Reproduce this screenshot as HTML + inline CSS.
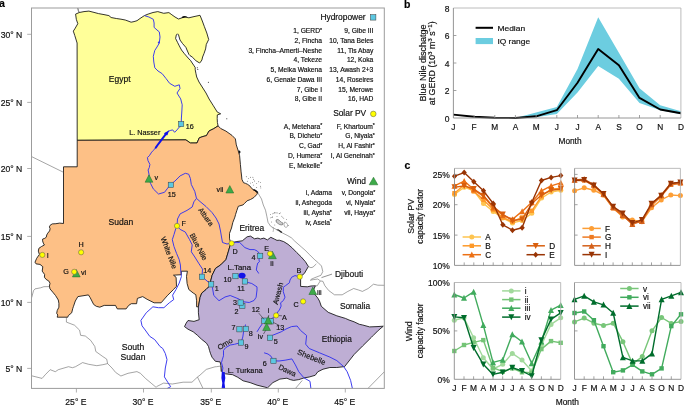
<!DOCTYPE html>
<html><head><meta charset="utf-8"><title>Figure</title>
<style>
html,body{margin:0;padding:0;background:#fff;}
body{width:685px;height:405px;overflow:hidden;}
svg{display:block;font-family:"Liberation Sans", sans-serif;will-change:transform;}
text{stroke:#111;stroke-width:0.18px;}
</style></head>
<body>
<svg width="685" height="405" viewBox="0 0 685 405">
<rect width="685" height="405" fill="#fff"/>
<g id="map">
<polygon points="79.3,12.5 84.0,11.6 88.9,11.1 94.0,12.4 98.5,13.6 104.0,14.6 108.9,15.6 111.1,17.5 116.3,18.5 121.0,19.2 125.2,20.0 128.0,21.0 131.1,22.2 134.0,21.6 137.0,20.7 140.0,18.5 144.4,15.6 148.1,14.1 153.0,12.5 157.8,11.6 163.7,13.3 168.9,12.6 171.9,14.8 175.0,17.0 178.5,19.0 184.4,17.0 188.9,17.8 194.0,16.6 200.0,15.3 202.3,21.0 204.4,26.7 206.8,33.0 208.7,39.5 206.3,44.4 205.6,48.9 204.1,53.3 202.6,57.0 201.9,60.0 200.4,62.2 199.6,63.0 195.9,60.7 192.2,57.0 190.0,55.6 188.9,54.4 187.0,50.0 185.9,47.4 182.5,43.5 180.0,40.0 178.5,34.8 177.5,33.8 176.3,35.0 175.6,38.5 177.5,42.3 179.3,45.9 181.5,50.0 184.4,53.7 188.9,58.9 190.6,60.5 192.2,63.0 193.7,65.2 195.2,67.5 195.2,69.6 195.9,73.3 196.7,77.0 199.0,82.0 202.2,87.0 206.0,93.0 209.1,99.0 213.0,105.2 217.3,112.1 220.7,113.8 217.3,114.9 217.2,118.5 217.4,122.5 218.1,125.9 213.7,128.7 209.0,131.0 206.5,135.6 203.0,136.5 199.3,137.8 197.0,143.0 190.4,143.0 185.9,139.9 77.2,140.3 77.1,43.0 74.8,35.6 73.3,31.1 74.8,28.9 77.8,23.7 76.3,19.3 75.6,14.1" fill="#FFFF99" stroke="#111" stroke-width="0.85" stroke-linejoin="round"/>
<polygon points="77.2,140.3 185.9,139.9 190.4,143.0 197.0,143.0 199.3,137.8 203.0,136.5 206.5,135.6 209.0,131.0 213.7,128.7 218.1,125.9 220.7,128.5 225.9,131.1 232.0,135.4 235.4,138.9 236.3,144.9 238.0,150.1 239.6,155.6 240.4,164.4 241.1,171.9 241.6,176.0 241.9,179.3 243.5,182.7 245.6,183.4 247.7,184.4 250.1,186.2 251.8,188.6 253.9,190.0 256.7,191.4 257.7,192.7 256.6,194.7 253.9,197.5 250.5,199.5 247.1,200.8 244.4,203.6 243.0,204.9 238.3,206.3 236.9,210.3 235.6,214.4 234.9,217.1 232.8,222.5 231.5,228.0 229.5,233.4 229.5,238.8 230.8,242.9 228.5,251.1 225.9,259.7 220.7,264.9 215.5,268.4 212.1,275.3 210.4,282.2 210.8,285.3 208.7,286.9 206.1,289.5 201.8,293.0 200.1,297.3 198.4,306.8 196.6,306.8 196.6,300.8 195.8,294.7 193.2,293.0 188.8,289.5 187.1,283.5 186.5,276.4 187.4,271.2 181.3,271.2 181.3,274.7 173.5,275.2 176.1,277.3 176.5,286.3 173.4,289.6 167.2,295.8 161.1,302.8 154.1,302.8 147.1,299.3 142.7,296.6 137.4,298.4 136.6,303.7 131.3,303.7 128.7,305.4 126.1,308.9 117.3,308.9 115.5,305.4 104.2,305.4 99.8,307.2 96.3,306.3 93.7,304.5 90.1,297.5 88.4,294.9 77.9,296.6 75.3,301.0 73.5,306.3 72.8,308.3 71.7,312.8 68.3,315.6 67.8,317.2 57.2,317.2 57.8,315.0 56.7,313.3 57.2,310.6 58.9,307.2 58.9,303.3 58.3,300.0 55.6,295.6 52.8,292.2 50.0,288.9 49.4,286.1 50.0,283.3 48.9,281.1 46.1,279.4 44.4,277.2 44.6,274.5 42.2,271.1 42.8,266.7 40.0,264.4 36.1,263.9 35.0,262.2 36.7,258.3 39.4,254.4 38.3,251.1 38.9,248.3 41.5,246.5 44.4,245.0 43.3,243.1 42.6,240.9 42.6,239.1 44.8,238.3 46.3,237.2 46.7,235.0 47.8,233.1 49.6,230.9 50.1,228.7 49.4,226.9 50.0,225.4 52.2,223.9 55.9,223.7 59.6,223.1 63.5,223.5 63.5,166.8 77.2,166.8" fill="#FDC086" stroke="#111" stroke-width="0.85" stroke-linejoin="round"/>
<polygon points="230.8,242.9 236.9,241.5 242.3,240.8 247.1,236.8 250.5,236.1 254.5,238.8 257.9,238.1 260.4,239.0 263.9,238.1 267.4,239.9 270.8,237.3 274.3,239.0 277.0,240.4 279.3,240.2 283.7,241.6 288.0,244.3 292.4,248.1 296.7,252.5 301.1,256.8 305.4,261.7 308.4,266.5 304.3,273.5 300.6,276.5 300.6,286.4 307.3,286.8 311.0,286.0 315.4,285.8 313.8,289.3 314.8,294.4 317.8,298.1 319.5,301.1 321.3,306.3 328.2,312.3 336.8,315.8 345.4,318.4 349.0,320.0 354.1,321.8 359.3,324.3 362.7,325.0 369.6,326.9 377.0,326.6 383.3,326.2 378.3,330.4 373.1,335.6 371.4,337.3 362.7,345.9 354.1,354.5 344.6,366.6 336.8,367.5 329.9,367.5 323.0,369.2 317.8,371.8 315.2,375.3 309.2,377.0 304.0,377.9 298.8,379.6 293.6,380.4 290.2,379.6 286.9,378.2 279.9,379.1 272.9,382.6 267.6,387.8 264.1,386.9 257.1,385.2 250.1,382.6 243.1,380.8 237.8,377.3 232.6,374.7 225.5,373.8 221.5,371.4 220.8,365.3 220.1,361.9 215.4,361.3 212.0,357.2 210.6,353.8 209.5,350.4 208.5,346.5 206.5,343.2 201.5,339.2 197.3,335.2 193.2,331.8 188.0,329.2 184.5,326.6 186.2,323.1 188.0,320.5 194.0,321.4 199.2,319.7 198.4,312.8 198.4,306.8 200.1,297.3 201.8,293.0 206.1,289.5 208.7,286.9 210.8,285.3 210.4,282.2 212.1,275.3 215.5,268.4 220.7,264.9 225.9,259.7 228.5,251.1" fill="#BEAED4" stroke="#111" stroke-width="0.85" stroke-linejoin="round"/>
<polyline points="31.6,156.6 63.5,172.3" fill="none" stroke="#4a4a4a" stroke-width="0.5" stroke-linejoin="round"/>
<polyline points="31.7,297.6 33.5,290.7 35.0,288.9 40.6,287.8 43.9,286.7 49.4,286.6" fill="none" stroke="#4a4a4a" stroke-width="0.5" stroke-linejoin="round"/>
<polyline points="66.4,317.2 66.4,322.1 74.5,325.2 79.6,330.2 80.6,335.3 85.3,336.0 90.7,340.4 94.8,346.4 95.8,351.5 102.9,356.6 106.7,359.1 107.6,363.6 112.0,368.0 115.6,372.4 120.9,376.0 128.0,373.3 136.9,371.6 140.4,373.3 145.8,378.7 151.1,383.1 156.4,387.6" fill="none" stroke="#4a4a4a" stroke-width="0.5" stroke-linejoin="round"/>
<polyline points="31.7,375.8 42.1,378.4 45.2,374.8 50.2,369.7 55.3,371.7 58.3,369.7 68.5,366.7 72.5,367.7 75.5,366.7 82.6,362.6 88.7,364.3 96.8,365.7 102.9,364.7 107.6,363.6" fill="none" stroke="#4a4a4a" stroke-width="0.5" stroke-linejoin="round"/>
<polyline points="156.4,386.7 163.6,383.1 172.4,384.0 183.1,382.2 192.0,382.2 197.5,377.0 200.0,375.1 206.3,369.4 215.0,366.8 216.7,366.7 220.8,366.0 220.8,371.4 221.5,371.4" fill="none" stroke="#4a4a4a" stroke-width="0.5" stroke-linejoin="round"/>
<polyline points="197.5,377.0 199.3,380.8 202.8,388.0" fill="none" stroke="#4a4a4a" stroke-width="0.5" stroke-linejoin="round"/>
<polyline points="257.7,192.7 259.5,195.6 261.5,199.0 263.3,205.0 265.5,210.2 266.8,216.2 268.0,222.3 270.6,226.2 274.1,228.3 278.4,230.5 282.7,233.1 287.1,235.3 291.4,237.8 294.8,241.2 301.2,246.8 304.9,250.0 309.8,254.9 314.8,259.9 317.8,262.3 321.5,266.0 322.8,271.6 320.9,275.3 316.0,277.2 311.7,279.0 310.4,280.2 313.5,279.6 317.8,279.0 320.3,280.9 322.9,281.3 324.8,285.6 328.7,290.5 334.5,294.8 342.2,294.8 347.9,291.4 353.7,288.5 358.5,290.0 362.4,291.4 368.2,288.5 373.5,284.2 377.8,285.2 384.3,285.3" fill="none" stroke="#4a4a4a" stroke-width="0.5" stroke-linejoin="round"/>
<polyline points="308.4,266.5 310.9,267.7 313.0,267.1 316.3,263.9" fill="none" stroke="#4a4a4a" stroke-width="0.5" stroke-linejoin="round"/>
<polyline points="315.4,285.8 317.2,285.8 320.3,280.9" fill="none" stroke="#4a4a4a" stroke-width="0.5" stroke-linejoin="round"/>
<polyline points="367.9,388.5 384.3,371.8" fill="none" stroke="#4a4a4a" stroke-width="0.5" stroke-linejoin="round"/>
<polyline points="295.4,388.5 302.3,380.4" fill="none" stroke="#4a4a4a" stroke-width="0.5" stroke-linejoin="round"/>
<polyline points="144.4,15.6 148.9,17.0 153.3,19.3 154.1,23.0 154.1,27.4 157.0,30.0 159.3,31.9 160.0,37.0 159.3,43.0 157.0,47.0 154.8,50.4 153.3,56.3 153.8,62.0 154.8,67.8 158.0,71.0 162.2,73.7 166.0,78.5 169.6,83.3 174.8,86.3 179.3,84.8 180.0,88.5 177.0,93.0 180.7,98.9 182.2,104.8 181.8,112.0 181.4,118.0 181.2,124.0" fill="none" stroke="#3434EE" stroke-width="0.95" stroke-linejoin="round"/>
<polyline points="156.0,147.2 153.6,150.2 151.7,152.1 149.3,155.8 147.4,157.5 148.0,160.7 149.9,164.4 149.3,167.5 148.1,170.0 149.0,174.2 149.0,179.4 150.7,183.7 153.3,188.9 158.5,194.0 164.5,192.3 167.1,188.9 170.6,184.5 174.9,181.1 180.1,175.9 185.3,173.3 188.7,174.2 190.4,178.5 191.3,184.5 194.8,191.5 196.5,198.4 193.9,201.8 192.2,207.0 187.0,210.4 180.1,213.9 177.5,219.0 177.0,225.9" fill="none" stroke="#3434EE" stroke-width="0.95" stroke-linejoin="round"/>
<polyline points="177.0,225.9 175.8,228.5 174.0,234.5 172.3,239.7 174.0,246.6 176.6,253.5 179.2,259.6 180.4,265.0 180.7,270.0 181.4,276.6 179.2,283.1 175.9,289.7 172.6,295.2 173.7,299.6 169.3,302.8 163.9,307.7 158.4,307.7 152.9,306.8 146.3,312.7 140.9,320.4 142.0,325.8 145.2,330.0 149.7,336.3 154.7,339.6 160.1,346.6 162.7,348.4 165.3,353.5 167.0,359.6 165.3,368.0 164.4,376.9 168.9,384.0 170.7,386.7 167.0,388.6" fill="none" stroke="#3434EE" stroke-width="0.95" stroke-linejoin="round"/>
<polyline points="177.0,225.9 180.1,229.4 185.3,232.0 189.6,239.7 192.2,244.9 191.3,251.8 194.8,257.0 199.1,263.9 202.5,269.1 202.0,276.6 207.0,281.0 211.2,284.3 212.4,287.6 213.8,295.5 219.0,300.7 225.0,297.0 230.2,295.5 238.9,299.0 242.3,301.6 249.2,302.5 254.0,300.5 256.1,297.3 257.0,290.0 257.0,286.9 251.8,283.5 244.9,281.7 242.0,277.0" fill="none" stroke="#3434EE" stroke-width="0.95" stroke-linejoin="round"/>
<polyline points="196.5,198.4 200.0,201.5 206.0,206.5 212.0,212.5 216.0,218.0 219.0,224.0 220.5,231.0 221.5,237.0 222.5,242.5 227.0,244.0 231.6,243.3 235.0,242.3 239.7,242.5 244.9,247.6 250.0,249.6 254.4,249.6 257.4,251.1 259.3,253.3 260.1,255.9 258.9,260.0 259.6,261.5 257.8,263.0 257.0,265.9 256.3,270.0 257.9,272.0 258.7,273.5" fill="none" stroke="#3434EE" stroke-width="0.95" stroke-linejoin="round"/>
<polyline points="299.8,276.7 295.0,275.6 291.7,277.2 290.0,280.0 289.4,282.8 285.6,285.6 283.3,287.2 283.3,291.7 285.0,297.2 283.3,300.6 280.6,302.8 281.1,306.1 279.4,310.0 277.7,312.0 276.0,315.4 272.5,318.0 268.2,321.5 264.0,321.0" fill="none" stroke="#3434EE" stroke-width="0.95" stroke-linejoin="round"/>
<polyline points="262.2,324.0 260.0,327.0 257.0,331.8" fill="none" stroke="#3434EE" stroke-width="0.95" stroke-linejoin="round"/>
<polyline points="245.5,324.5 244.5,329.0 243.5,332.0 242.8,337.0 241.1,342.5 239.8,342.9 234.4,344.3 230.3,345.0 225.6,347.7 223.5,350.4 223.5,355.8 222.2,359.9 221.5,362.6 222.9,368.0 222.2,372.1" fill="none" stroke="#3434EE" stroke-width="0.95" stroke-linejoin="round"/>
<polyline points="270.0,337.5 272.5,335.3 277.0,333.5 281.2,331.8 286.0,329.0 291.5,326.6 297.1,326.0 300.5,330.4 306.6,335.5 305.7,344.2 309.2,348.5 319.5,352.8 329.9,357.1 336.8,360.6 343.7,366.6 347.2,371.8 350.6,380.4 352.4,388.5" fill="none" stroke="#3434EE" stroke-width="0.95" stroke-linejoin="round"/>
<polyline points="264.1,352.8 268.0,354.0 271.1,356.3 273.4,360.8 279.0,361.0 285.1,360.2 291.9,358.9 295.4,364.9 298.8,371.8 304.0,377.9 310.0,381.3 310.9,388.5" fill="none" stroke="#3434EE" stroke-width="0.95" stroke-linejoin="round"/>
<polyline points="181,126.5 179.5,126.8 177,129.9 174.6,132.3 172.7,129.9 170.2,130.5 167.8,131.7" fill="none" stroke="#3434EE" stroke-width="0.95" stroke-linejoin="round"/>
<polyline points="166.8,133 164.5,135.8 162.2,138.8 160,141.8 157.6,145 155.8,147.6" fill="none" stroke="#1212E8" stroke-width="2" stroke-linejoin="round" stroke-linecap="round"/>
<polygon points="169.2,130.2 167.4,135.2 165.4,134.9 164,133.2" fill="#1212E8"/>
<ellipse cx="242" cy="275.6" rx="3.6" ry="2.9" fill="#1212E8"/>
<path d="M221.8,372 L224.6,372 L225.3,378 L224.5,383 L225.2,388.5 L221.6,388.5 L222.3,383 L221.4,378 Z" fill="#1212E8"/>
<circle cx="158.8" cy="42.5" r="1" fill="#3a3af0"/>
<polyline points="79.3,12.5 78.3,10.5 77.8,8" fill="none" stroke="#111" stroke-width="0.7"/>
<path d="M181.5,17.2 q2,-1.6 4.5,-0.9 l1.5,0.8 q-2.5,-0.2 -3.5,0.8 q-1.5,0.5 -2.5,-0.7z" fill="#111"/>
<circle cx="208.4" cy="82.3" r="0.5" fill="#111"/>
<circle cx="226.8" cy="118.7" r="0.5" fill="#111"/>
<circle cx="197.3" cy="67.8" r="0.5" fill="#111"/>
<circle cx="197.8" cy="69.6" r="0.5" fill="#111"/>
<path d="M238.6,150.2 l1.6,0.8 l0.4,1.6 l-1,0.3 l0.2,1.2 l-0.8,-0.6 z" fill="#111"/>
<circle cx="246.3" cy="176.8" r="0.45" fill="#333"/>
<circle cx="248.4" cy="178.6" r="0.45" fill="#333"/>
<circle cx="250.4" cy="177.2" r="0.45" fill="#333"/>
<circle cx="252.9" cy="177.2" r="0.45" fill="#333"/>
<circle cx="253.5" cy="179.3" r="0.45" fill="#333"/>
<circle cx="247.3" cy="181.3" r="0.45" fill="#333"/>
<circle cx="250.4" cy="183.1" r="0.45" fill="#333"/>
<circle cx="252.5" cy="182.4" r="0.45" fill="#333"/>
<circle cx="254.6" cy="181" r="0.45" fill="#333"/>
<circle cx="256.7" cy="183.4" r="0.45" fill="#333"/>
<circle cx="258.7" cy="181.7" r="0.45" fill="#333"/>
<circle cx="260.5" cy="182.4" r="0.45" fill="#333"/>
<circle cx="253.5" cy="185.1" r="0.45" fill="#333"/>
<circle cx="256.7" cy="187.5" r="0.45" fill="#333"/>
<circle cx="260.5" cy="186.2" r="0.45" fill="#333"/>
<circle cx="260.8" cy="187.9" r="0.45" fill="#333"/>
<polyline points="253.5,189.6 255.5,190.6 257.7,192.7" fill="none" stroke="#111" stroke-width="1.6"/>
<path d="M276,220 q2,-1.5 3.5,0.5 q1.5,2 3.5,2.5 q0.5,1.5 -1,2 q-2.5,0 -4,-1.5 q-2.5,-1 -2,-3.5z" fill="#ccc" stroke="#333" stroke-width="0.45"/>
<path d="M277.5,229.5 l2,1.2 l2.5,1.8" fill="none" stroke="#222" stroke-width="1.1"/>
<path d="M284.5,222 q2,0 3,2.5 q0.5,2.5 -1.5,3 q-2,-0.5 -2,-3z" fill="none" stroke="#666" stroke-width="0.5"/>
<path d="M272,214 q3,-2 6,-1 M270,218 l3,-1 M273,227 q1,3 0,5 M276,229.5 q3,1 5,3.5 M279,214 l2,-1.5 M281,216 q2,1 3,3" fill="none" stroke="#777" stroke-width="0.5"/>
<circle cx="270.5" cy="214.5" r="0.45" fill="#555"/>
<circle cx="272.5" cy="217" r="0.45" fill="#555"/>
<circle cx="274.6" cy="212.8" r="0.45" fill="#555"/>
<circle cx="277" cy="216.5" r="0.45" fill="#555"/>
<circle cx="279.2" cy="213.5" r="0.45" fill="#555"/>
<circle cx="271.6" cy="222" r="0.45" fill="#555"/>
<circle cx="274.8" cy="225" r="0.45" fill="#555"/>
<circle cx="286.5" cy="219.5" r="0.45" fill="#555"/>
<circle cx="288.5" cy="225.5" r="0.45" fill="#555"/>
<rect x="31.5" y="8" width="352.8" height="380.4" fill="none" stroke="#9c9c9c" stroke-width="1"/>
</g>
<line x1="27.2" y1="34.3" x2="31.5" y2="34.3" stroke="#9c9c9c" stroke-width="0.8"/>
<text x="22.3" y="37.8" font-size="8.6" text-anchor="end" fill="#111">30° N</text>
<line x1="27.2" y1="102.4" x2="31.5" y2="102.4" stroke="#9c9c9c" stroke-width="0.8"/>
<text x="22.3" y="105.9" font-size="8.6" text-anchor="end" fill="#111">25° N</text>
<line x1="27.2" y1="168.5" x2="31.5" y2="168.5" stroke="#9c9c9c" stroke-width="0.8"/>
<text x="22.3" y="172.0" font-size="8.6" text-anchor="end" fill="#111">20° N</text>
<line x1="27.2" y1="236.4" x2="31.5" y2="236.4" stroke="#9c9c9c" stroke-width="0.8"/>
<text x="22.3" y="239.9" font-size="8.6" text-anchor="end" fill="#111">15° N</text>
<line x1="27.2" y1="302.4" x2="31.5" y2="302.4" stroke="#9c9c9c" stroke-width="0.8"/>
<text x="22.3" y="305.9" font-size="8.6" text-anchor="end" fill="#111">10° N</text>
<line x1="27.2" y1="368.4" x2="31.5" y2="368.4" stroke="#9c9c9c" stroke-width="0.8"/>
<text x="22.3" y="371.9" font-size="8.6" text-anchor="end" fill="#111">5° N</text>
<line x1="76.4" y1="388.4" x2="76.4" y2="392.5" stroke="#9c9c9c" stroke-width="0.8"/>
<text x="75.9" y="405.1" font-size="8.6" text-anchor="middle" fill="#111">25° E</text>
<line x1="143.5" y1="388.4" x2="143.5" y2="392.5" stroke="#9c9c9c" stroke-width="0.8"/>
<text x="143.0" y="405.1" font-size="8.6" text-anchor="middle" fill="#111">30° E</text>
<line x1="211.3" y1="388.4" x2="211.3" y2="392.5" stroke="#9c9c9c" stroke-width="0.8"/>
<text x="210.8" y="405.1" font-size="8.6" text-anchor="middle" fill="#111">35° E</text>
<line x1="278.3" y1="388.4" x2="278.3" y2="392.5" stroke="#9c9c9c" stroke-width="0.8"/>
<text x="277.8" y="405.1" font-size="8.6" text-anchor="middle" fill="#111">40° E</text>
<line x1="345.3" y1="388.4" x2="345.3" y2="392.5" stroke="#9c9c9c" stroke-width="0.8"/>
<text x="344.8" y="405.1" font-size="8.6" text-anchor="middle" fill="#111">45° E</text>
<text x="108.8" y="82.2" font-size="8.6" textLength="21.7" lengthAdjust="spacingAndGlyphs" fill="#111">Egypt</text>
<text x="108.5" y="224.5" font-size="8.6" textLength="24.7" lengthAdjust="spacingAndGlyphs" fill="#111">Sudan</text>
<text x="239.4" y="230.7" font-size="8.6" textLength="24.8" lengthAdjust="spacingAndGlyphs" fill="#111">Eritrea</text>
<text x="334.9" y="277" font-size="8.6" textLength="28.3" lengthAdjust="spacingAndGlyphs" fill="#111">Djibouti</text>
<text x="339.9" y="308.9" font-size="8.6" textLength="30.2" lengthAdjust="spacingAndGlyphs" fill="#111">Somalia</text>
<text x="321.8" y="341.7" font-size="9.7" textLength="30.0" lengthAdjust="spacingAndGlyphs" fill="#111">Ethiopia</text>
<text x="133" y="349.6" font-size="8.6" text-anchor="middle" fill="#111">South</text>
<text x="133" y="359.6" font-size="8.6" text-anchor="middle" fill="#111">Sudan</text>
<text x="129.3" y="135.2" font-size="7.2" textLength="31" lengthAdjust="spacingAndGlyphs" fill="#111">L. Nasser</text>
<text x="227.6" y="270.0" font-size="8" textLength="23.4" lengthAdjust="spacingAndGlyphs" fill="#111">L.Tana</text>
<text x="227.7" y="372.9" font-size="8" textLength="35" lengthAdjust="spacingAndGlyphs" fill="#111">L. Turkana</text>
<line x1="321.5" y1="277.6" x2="332" y2="274.1" stroke="#222" stroke-width="0.5"/>
<text x="0" y="0" font-size="7.2" fill="#222" text-anchor="middle" dominant-baseline="central" textLength="20.4" lengthAdjust="spacingAndGlyphs" transform="translate(206,216.8) rotate(53.6)">Atbara</text>
<text x="0" y="0" font-size="7.3" fill="#222" text-anchor="middle" dominant-baseline="central" textLength="29.3" lengthAdjust="spacingAndGlyphs" transform="translate(198.6,246.8) rotate(62)">Blue Nile</text>
<text x="0" y="0" font-size="7.3" fill="#222" text-anchor="middle" dominant-baseline="central" textLength="33.4" lengthAdjust="spacingAndGlyphs" transform="translate(168.8,252.7) rotate(68.7)">White Nile</text>
<text x="0" y="0" font-size="7.4" fill="#222" text-anchor="middle" dominant-baseline="central" textLength="22.3" lengthAdjust="spacingAndGlyphs" transform="translate(278,293.5) rotate(-75.5)">Awash</text>
<text x="0" y="0" font-size="7.4" fill="#222" text-anchor="middle" dominant-baseline="central" textLength="16.3" lengthAdjust="spacingAndGlyphs" transform="translate(225,343.9) rotate(-31.7)">Omo</text>
<text x="0" y="0" font-size="7.6" fill="#222" text-anchor="middle" dominant-baseline="central" textLength="29.8" lengthAdjust="spacingAndGlyphs" transform="translate(311.5,357.3) rotate(22)">Shebelle</text>
<text x="0" y="0" font-size="7.3" fill="#222" text-anchor="middle" dominant-baseline="central" textLength="18.4" lengthAdjust="spacingAndGlyphs" transform="translate(287.3,370.4) rotate(25.4)">Dawa</text>
<rect x="208.5" y="281.7" width="5.3" height="5.3" fill="#5CC8E2" stroke="#3a3a3a" stroke-width="0.5"/>
<rect x="239.7" y="303.2" width="5.3" height="5.3" fill="#5CC8E2" stroke="#3a3a3a" stroke-width="0.5"/>
<rect x="237.9" y="299.9" width="5.3" height="5.3" fill="#5CC8E2" stroke="#3a3a3a" stroke-width="0.5"/>
<rect x="257.5" y="253.2" width="5.3" height="5.3" fill="#5CC8E2" stroke="#3a3a3a" stroke-width="0.5"/>
<rect x="267.4" y="335.1" width="5.3" height="5.3" fill="#5CC8E2" stroke="#3a3a3a" stroke-width="0.5"/>
<rect x="270.8" y="358.2" width="5.3" height="5.3" fill="#5CC8E2" stroke="#3a3a3a" stroke-width="0.5"/>
<rect x="236.8" y="326.6" width="5.3" height="5.3" fill="#5CC8E2" stroke="#3a3a3a" stroke-width="0.5"/>
<rect x="243.2" y="326.2" width="5.3" height="5.3" fill="#5CC8E2" stroke="#3a3a3a" stroke-width="0.5"/>
<rect x="238.4" y="339.9" width="5.3" height="5.3" fill="#5CC8E2" stroke="#3a3a3a" stroke-width="0.5"/>
<rect x="232.8" y="273.5" width="5.3" height="5.3" fill="#5CC8E2" stroke="#3a3a3a" stroke-width="0.5"/>
<rect x="242.2" y="278.8" width="5.3" height="5.3" fill="#5CC8E2" stroke="#3a3a3a" stroke-width="0.5"/>
<rect x="261.7" y="318.0" width="5.3" height="5.3" fill="#5CC8E2" stroke="#3a3a3a" stroke-width="0.5"/>
<rect x="268.2" y="318.7" width="5.3" height="5.3" fill="#5CC8E2" stroke="#3a3a3a" stroke-width="0.5"/>
<rect x="199.3" y="274.1" width="5.3" height="5.3" fill="#5CC8E2" stroke="#3a3a3a" stroke-width="0.5"/>
<rect x="168.2" y="182.2" width="5.3" height="5.3" fill="#5CC8E2" stroke="#3a3a3a" stroke-width="0.5"/>
<rect x="178.5" y="121.4" width="5.3" height="5.3" fill="#5CC8E2" stroke="#3a3a3a" stroke-width="0.5"/>
<polygon points="145.1,182.2 152.9,182.2 149.0,174.8" fill="#3DAA48" stroke="#1d6a26" stroke-width="0.5"/>
<polygon points="225.9,193.0 233.7,193.0 229.8,185.6" fill="#3DAA48" stroke="#1d6a26" stroke-width="0.5"/>
<polygon points="72.4,276.9 80.2,276.9 76.3,269.5" fill="#3DAA48" stroke="#1d6a26" stroke-width="0.5"/>
<polygon points="268.5,258.7 276.3,258.7 272.4,251.3" fill="#3DAA48" stroke="#1d6a26" stroke-width="0.5"/>
<polygon points="308.9,294.5 316.7,294.5 312.8,287.1" fill="#3DAA48" stroke="#1d6a26" stroke-width="0.5"/>
<polygon points="264.3,323.9 272.1,323.9 268.2,316.5" fill="#3DAA48" stroke="#1d6a26" stroke-width="0.5"/>
<polygon points="262.7,330.5 270.5,330.5 266.6,323.1" fill="#3DAA48" stroke="#1d6a26" stroke-width="0.5"/>
<circle cx="42.3" cy="254.9" r="2.6" fill="#FFFF00" stroke="#555" stroke-width="0.5"/>
<circle cx="81.1" cy="252.3" r="2.6" fill="#FFFF00" stroke="#555" stroke-width="0.5"/>
<circle cx="74.2" cy="271.8" r="2.6" fill="#FFFF00" stroke="#555" stroke-width="0.5"/>
<circle cx="231.6" cy="243.3" r="2.6" fill="#FFFF00" stroke="#555" stroke-width="0.5"/>
<circle cx="270" cy="253.7" r="2.6" fill="#FFFF00" stroke="#555" stroke-width="0.5"/>
<circle cx="177" cy="225.9" r="2.6" fill="#FFFF00" stroke="#555" stroke-width="0.5"/>
<circle cx="276.1" cy="315.4" r="2.6" fill="#FFFF00" stroke="#555" stroke-width="0.5"/>
<circle cx="299.8" cy="276.7" r="2.6" fill="#FFFF00" stroke="#555" stroke-width="0.5"/>
<circle cx="303.1" cy="301.4" r="2.6" fill="#FFFF00" stroke="#555" stroke-width="0.5"/>
<text x="185.8" y="128.8" font-size="7.2" fill="#111">16</text>
<text x="167.8" y="197.2" font-size="7.2" fill="#111">15</text>
<text x="203.2" y="272.5" font-size="7.2" fill="#111">14</text>
<text x="214.8" y="291" font-size="7.2" fill="#111">1</text>
<text x="223.5" y="282.2" font-size="7.2" fill="#111">10</text>
<text x="237.2" y="290.5" font-size="7.2" fill="#111">11</text>
<text x="251.5" y="259.9" font-size="7.2" fill="#111">4</text>
<text x="232.9" y="304.5" font-size="7.2" fill="#111">3</text>
<text x="234.6" y="313.8" font-size="7.2" fill="#111">2</text>
<text x="251.7" y="312.4" font-size="7.2" fill="#111">12</text>
<text x="276.2" y="330.2" font-size="7.2" fill="#111">13</text>
<text x="231.5" y="330.2" font-size="7.2" fill="#111">7</text>
<text x="248.7" y="335.5" font-size="7.2" fill="#111">8</text>
<text x="244.5" y="349.3" font-size="7.2" fill="#111">9</text>
<text x="273.8" y="344.2" font-size="7.2" fill="#111">5</text>
<text x="262.8" y="365.6" font-size="7.2" fill="#111">6</text>
<text x="46.8" y="257.9" font-size="7.2" fill="#111">I</text>
<text x="78.5" y="247.4" font-size="7.2" fill="#111">H</text>
<text x="63.3" y="274.3" font-size="7.2" fill="#111">G</text>
<text x="81" y="275" font-size="7.2" fill="#111">vi</text>
<text x="154.4" y="180.0" font-size="7.2" fill="#111">v</text>
<text x="216.6" y="192.0" font-size="7.2" fill="#111">vii</text>
<text x="181.5" y="226.3" font-size="7.2" fill="#111">F</text>
<text x="232.4" y="253.9" font-size="7.2" fill="#111">D</text>
<text x="264.2" y="250.5" font-size="7.2" fill="#111">E</text>
<text x="270.3" y="266.2" font-size="7.2" fill="#111">ii</text>
<text x="316.9" y="294.8" font-size="7.2" fill="#111">iii</text>
<text x="296.5" y="272.7" font-size="7.2" fill="#111">B</text>
<text x="293.5" y="307.4" font-size="7.2" fill="#111">C</text>
<text x="282" y="319.5" font-size="7.2" fill="#111">A</text>
<text x="267.8" y="313.2" font-size="7.2" fill="#111">i</text>
<text x="257.8" y="339" font-size="7.2" fill="#111">iv</text>
<line x1="258.5" y1="312.8" x2="264" y2="319.4" stroke="#111" stroke-width="0.5"/>
<line x1="273.5" y1="322.5" x2="279.5" y2="325.5" stroke="#111" stroke-width="0.5"/>
<line x1="278.8" y1="315.6" x2="282" y2="315.8" stroke="#111" stroke-width="0.5"/>
<line x1="265.6" y1="330.5" x2="263.5" y2="334" stroke="#111" stroke-width="0.5"/>
<line x1="268.8" y1="315" x2="268.3" y2="317.5" stroke="#111" stroke-width="0.5"/>
<text x="365.6" y="20.3" font-size="8.4" text-anchor="end" fill="#111">Hydropower</text>
<rect x="370.4" y="14.6" width="5.5" height="5.5" fill="#5CC8E2" stroke="#3a3a3a" stroke-width="0.5"/>
<text x="322.0" y="33.0" font-size="6.7" text-anchor="end" fill="#111">1, GERD<tspan font-size="5.2" dy="-1.3">*</tspan></text>
<text x="373.3" y="33.0" font-size="6.7" text-anchor="end" fill="#111">9, Gibe III</text>
<text x="322.0" y="42.75" font-size="6.7" text-anchor="end" fill="#111">2, Fincha</text>
<text x="373.3" y="42.75" font-size="6.7" text-anchor="end" fill="#111">10, Tana Beles</text>
<text x="322.0" y="52.5" font-size="6.7" text-anchor="end" fill="#111">3, Fincha–Amerti–Neshe</text>
<text x="373.3" y="52.5" font-size="6.7" text-anchor="end" fill="#111">11, Tis Abay</text>
<text x="322.0" y="62.25" font-size="6.7" text-anchor="end" fill="#111">4, Tekeze</text>
<text x="373.3" y="62.25" font-size="6.7" text-anchor="end" fill="#111">12, Koka</text>
<text x="322.0" y="72.0" font-size="6.7" text-anchor="end" fill="#111">5, Melka Wakena</text>
<text x="373.3" y="72.0" font-size="6.7" text-anchor="end" fill="#111">13, Awash 2+3</text>
<text x="322.0" y="81.75" font-size="6.7" text-anchor="end" fill="#111">6, Genale Dawa III</text>
<text x="373.3" y="81.75" font-size="6.7" text-anchor="end" fill="#111">14, Roseires</text>
<text x="322.0" y="91.5" font-size="6.7" text-anchor="end" fill="#111">7, Gibe I</text>
<text x="373.3" y="91.5" font-size="6.7" text-anchor="end" fill="#111">15, Merowe</text>
<text x="322.0" y="101.25" font-size="6.7" text-anchor="end" fill="#111">8, Gibe II</text>
<text x="373.3" y="101.25" font-size="6.7" text-anchor="end" fill="#111">16, HAD</text>
<text x="366.2" y="116.4" font-size="8.4" text-anchor="end" fill="#111">Solar PV</text>
<circle cx="373.3" cy="113.9" r="2.8" fill="#FFFF00" stroke="#555" stroke-width="0.5"/>
<text x="322.3" y="128.7" font-size="6.7" text-anchor="end" fill="#111">A, Metehara<tspan font-size="5.2" dy="-1.3">*</tspan></text>
<text x="322.3" y="138.45" font-size="6.7" text-anchor="end" fill="#111">B, Dicheto<tspan font-size="5.2" dy="-1.3">*</tspan></text>
<text x="322.3" y="148.2" font-size="6.7" text-anchor="end" fill="#111">C, Gad<tspan font-size="5.2" dy="-1.3">*</tspan></text>
<text x="322.3" y="157.95" font-size="6.7" text-anchor="end" fill="#111">D, Humera<tspan font-size="5.2" dy="-1.3">*</tspan></text>
<text x="322.3" y="167.7" font-size="6.7" text-anchor="end" fill="#111">E, Mekelle<tspan font-size="5.2" dy="-1.3">*</tspan></text>
<text x="374.8" y="128.7" font-size="6.7" text-anchor="end" fill="#111">F, Khartoum<tspan font-size="5.2" dy="-1.3">*</tspan></text>
<text x="374.8" y="138.45" font-size="6.7" text-anchor="end" fill="#111">G, Niyala<tspan font-size="5.2" dy="-1.3">*</tspan></text>
<text x="374.8" y="148.2" font-size="6.7" text-anchor="end" fill="#111">H, Al Fashir<tspan font-size="5.2" dy="-1.3">*</tspan></text>
<text x="374.8" y="157.95" font-size="6.7" text-anchor="end" fill="#111">I, Al Geneinah<tspan font-size="5.2" dy="-1.3">*</tspan></text>
<text x="366" y="184" font-size="8.4" text-anchor="end" fill="#111">Wind</text>
<polygon points="369.2,184.8 377.8,184.8 373.5,177.2" fill="#3DAA48" stroke="#1d6a26" stroke-width="0.5"/>
<text x="331.9" y="195.3" font-size="6.7" text-anchor="end" fill="#111">i, Adama</text>
<text x="331.9" y="205.05" font-size="6.7" text-anchor="end" fill="#111">ii, Ashegoda</text>
<text x="331.9" y="214.8" font-size="6.7" text-anchor="end" fill="#111">iii, Aysha<tspan font-size="5.2" dy="-1.3">*</tspan></text>
<text x="331.9" y="224.55" font-size="6.7" text-anchor="end" fill="#111">iv, Asela<tspan font-size="5.2" dy="-1.3">*</tspan></text>
<text x="375.2" y="195.3" font-size="6.7" text-anchor="end" fill="#111">v, Dongola<tspan font-size="5.2" dy="-1.3">*</tspan></text>
<text x="375.2" y="205.05" font-size="6.7" text-anchor="end" fill="#111">vi, Niyala<tspan font-size="5.2" dy="-1.3">*</tspan></text>
<text x="375.2" y="214.8" font-size="6.7" text-anchor="end" fill="#111">vii, Hayya<tspan font-size="5.2" dy="-1.3">*</tspan></text>
<polygon points="453.4,114.6 474.1,116.8 494.8,117.7 515.4,118.0 536.1,112.5 556.8,107.0 577.5,68.9 598.2,17.2 618.9,52.7 639.5,88.2 660.2,105.2 680.9,111.3 680.9,114.2 660.2,110.3 639.5,103.0 618.9,78.7 598.2,66.0 577.5,92.6 556.8,113.9 536.1,117.3 515.4,118.0 494.8,117.7 474.1,116.8 453.4,114.6" fill="#6CCDE0"/>
<polyline points="453.4,114.6 474.1,116.8 494.8,117.7 515.4,118.0 536.1,116.3 556.8,110.2 577.5,82.8 598.2,49.1 618.9,65.3 639.5,97.9 660.2,109.5 680.9,113.2" fill="none" stroke="#000" stroke-width="1.9" stroke-linejoin="round"/>
<path d="M453.4,8.0 H680.9 V118.0" fill="none" stroke="#b4b4b4" stroke-width="0.9"/>
<path d="M453.4,8.0 V118.0 H680.9" fill="none" stroke="#8a8a8a" stroke-width="0.9"/>
<line x1="453.4" y1="90.5" x2="456.4" y2="90.5" stroke="#8a8a8a" stroke-width="0.8"/>
<line x1="453.4" y1="63.0" x2="456.4" y2="63.0" stroke="#8a8a8a" stroke-width="0.8"/>
<line x1="453.4" y1="35.5" x2="456.4" y2="35.5" stroke="#8a8a8a" stroke-width="0.8"/>
<line x1="474.1" y1="118.0" x2="474.1" y2="115.0" stroke="#8a8a8a" stroke-width="0.8"/>
<line x1="494.8" y1="118.0" x2="494.8" y2="115.0" stroke="#8a8a8a" stroke-width="0.8"/>
<line x1="515.4" y1="118.0" x2="515.4" y2="115.0" stroke="#8a8a8a" stroke-width="0.8"/>
<line x1="536.1" y1="118.0" x2="536.1" y2="115.0" stroke="#8a8a8a" stroke-width="0.8"/>
<line x1="556.8" y1="118.0" x2="556.8" y2="115.0" stroke="#8a8a8a" stroke-width="0.8"/>
<line x1="577.5" y1="118.0" x2="577.5" y2="115.0" stroke="#8a8a8a" stroke-width="0.8"/>
<line x1="598.2" y1="118.0" x2="598.2" y2="115.0" stroke="#8a8a8a" stroke-width="0.8"/>
<line x1="618.9" y1="118.0" x2="618.9" y2="115.0" stroke="#8a8a8a" stroke-width="0.8"/>
<line x1="639.5" y1="118.0" x2="639.5" y2="115.0" stroke="#8a8a8a" stroke-width="0.8"/>
<line x1="660.2" y1="118.0" x2="660.2" y2="115.0" stroke="#8a8a8a" stroke-width="0.8"/>
<text x="449.4" y="121.5" font-size="8.5" text-anchor="end" fill="#111">0</text>
<text x="449.4" y="94.0" font-size="8.5" text-anchor="end" fill="#111">2</text>
<text x="449.4" y="66.5" font-size="8.5" text-anchor="end" fill="#111">4</text>
<text x="449.4" y="39.0" font-size="8.5" text-anchor="end" fill="#111">6</text>
<text x="449.4" y="11.5" font-size="8.5" text-anchor="end" fill="#111">8</text>
<text x="453.4" y="130.1" font-size="8.3" text-anchor="middle" fill="#111">J</text>
<text x="474.1" y="130.1" font-size="8.3" text-anchor="middle" fill="#111">F</text>
<text x="494.8" y="130.1" font-size="8.3" text-anchor="middle" fill="#111">M</text>
<text x="515.4" y="130.1" font-size="8.3" text-anchor="middle" fill="#111">A</text>
<text x="536.1" y="130.1" font-size="8.3" text-anchor="middle" fill="#111">M</text>
<text x="556.8" y="130.1" font-size="8.3" text-anchor="middle" fill="#111">J</text>
<text x="577.5" y="130.1" font-size="8.3" text-anchor="middle" fill="#111">J</text>
<text x="598.2" y="130.1" font-size="8.3" text-anchor="middle" fill="#111">A</text>
<text x="618.9" y="130.1" font-size="8.3" text-anchor="middle" fill="#111">S</text>
<text x="639.5" y="130.1" font-size="8.3" text-anchor="middle" fill="#111">O</text>
<text x="660.2" y="130.1" font-size="8.3" text-anchor="middle" fill="#111">N</text>
<text x="680.9" y="130.1" font-size="8.3" text-anchor="middle" fill="#111">D</text>
<text x="570" y="143.6" font-size="8.3" text-anchor="middle" fill="#111">Month</text>
<text x="0" y="0" font-size="9" fill="#111" text-anchor="middle" transform="translate(425.5,63) rotate(-90)">Blue Nile dischatge</text>
<text x="0" y="0" font-size="8.8" fill="#111" text-anchor="middle" transform="translate(435.1,63.3) rotate(-90)">at GERD (10<tspan font-size="6.2" dy="-2.9">3</tspan><tspan dy="2.9"> m</tspan><tspan font-size="6.2" dy="-2.9">3</tspan><tspan dy="2.9"> s</tspan><tspan font-size="6.2" dy="-2.9">−1</tspan><tspan dy="2.9">)</tspan></text>
<line x1="475.6" y1="27.8" x2="493" y2="27.8" stroke="#000" stroke-width="2"/>
<text x="497.4" y="30.8" font-size="8" textLength="27.8" lengthAdjust="spacingAndGlyphs" fill="#111">Median</text>
<rect x="475.6" y="38" width="17.4" height="6.1" fill="#6CCDE0"/>
<text x="497.4" y="43.8" font-size="8" textLength="32.7" lengthAdjust="spacingAndGlyphs" fill="#111">IQ range</text>
<polyline points="454.5,194.4 464.2,187.2 473.8,190.8 483.5,203.5 493.2,211.4 502.8,218.1 512.5,222.9 522.1,220.5 531.8,213.2 541.5,198.1 551.1,192.0 560.8,190.2" fill="none" stroke="#FEC44F" stroke-width="1.4" stroke-linejoin="round"/>
<circle cx="454.5" cy="194.4" r="2.50" fill="#FEC44F"/>
<circle cx="464.2" cy="187.2" r="2.50" fill="#FEC44F"/>
<circle cx="473.8" cy="190.8" r="2.50" fill="#FEC44F"/>
<circle cx="483.5" cy="203.5" r="2.50" fill="#FEC44F"/>
<circle cx="493.2" cy="211.4" r="2.50" fill="#FEC44F"/>
<circle cx="502.8" cy="218.1" r="2.50" fill="#FEC44F"/>
<circle cx="512.5" cy="222.9" r="2.50" fill="#FEC44F"/>
<circle cx="522.1" cy="220.5" r="2.50" fill="#FEC44F"/>
<circle cx="531.8" cy="213.2" r="2.50" fill="#FEC44F"/>
<circle cx="541.5" cy="198.1" r="2.50" fill="#FEC44F"/>
<circle cx="551.1" cy="192.0" r="2.50" fill="#FEC44F"/>
<circle cx="560.8" cy="190.2" r="2.50" fill="#FEC44F"/>
<polyline points="454.5,193.2 464.2,184.7 473.8,191.4 483.5,199.9 493.2,209.6 502.8,217.5 512.5,221.7 522.1,217.5 531.8,210.8 541.5,196.3 551.1,189.0 560.8,188.4" fill="none" stroke="#FE9929" stroke-width="1.4" stroke-linejoin="round"/>
<rect x="452.3" y="191.0" width="4.4" height="4.4" fill="#FE9929"/>
<rect x="462.0" y="182.5" width="4.4" height="4.4" fill="#FE9929"/>
<rect x="471.6" y="189.2" width="4.4" height="4.4" fill="#FE9929"/>
<rect x="481.3" y="197.7" width="4.4" height="4.4" fill="#FE9929"/>
<rect x="491.0" y="207.4" width="4.4" height="4.4" fill="#FE9929"/>
<rect x="500.6" y="215.3" width="4.4" height="4.4" fill="#FE9929"/>
<rect x="510.3" y="219.5" width="4.4" height="4.4" fill="#FE9929"/>
<rect x="519.9" y="215.3" width="4.4" height="4.4" fill="#FE9929"/>
<rect x="529.6" y="208.6" width="4.4" height="4.4" fill="#FE9929"/>
<rect x="539.3" y="194.1" width="4.4" height="4.4" fill="#FE9929"/>
<rect x="548.9" y="186.8" width="4.4" height="4.4" fill="#FE9929"/>
<rect x="558.6" y="186.2" width="4.4" height="4.4" fill="#FE9929"/>
<polyline points="454.5,185.9 464.2,181.1 473.8,189.6 483.5,196.3 493.2,207.8 502.8,215.1 512.5,219.3 522.1,211.4 531.8,202.3 541.5,190.8 551.1,185.9 560.8,182.9" fill="none" stroke="#EC7014" stroke-width="1.4" stroke-linejoin="round"/>
<polygon points="451.5,188.8 457.5,188.8 454.5,182.8" fill="#EC7014"/>
<polygon points="461.2,183.9 467.2,183.9 464.2,177.9" fill="#EC7014"/>
<polygon points="470.8,192.4 476.8,192.4 473.8,186.4" fill="#EC7014"/>
<polygon points="480.5,199.1 486.5,199.1 483.5,193.1" fill="#EC7014"/>
<polygon points="490.2,210.6 496.2,210.6 493.2,204.6" fill="#EC7014"/>
<polygon points="499.8,217.9 505.8,217.9 502.8,211.9" fill="#EC7014"/>
<polygon points="509.5,222.2 515.5,222.2 512.5,216.2" fill="#EC7014"/>
<polygon points="519.1,214.3 525.1,214.3 522.1,208.3" fill="#EC7014"/>
<polygon points="528.8,205.2 534.8,205.2 531.8,199.2" fill="#EC7014"/>
<polygon points="538.5,193.6 544.5,193.6 541.5,187.6" fill="#EC7014"/>
<polygon points="548.1,188.8 554.1,188.8 551.1,182.8" fill="#EC7014"/>
<polygon points="557.8,185.8 563.8,185.8 560.8,179.8" fill="#EC7014"/>
<polyline points="454.5,187.2 464.2,185.9 473.8,189.0 483.5,195.6 493.2,206.6 502.8,214.4 512.5,220.5 522.1,219.3 531.8,203.5 541.5,195.0 551.1,190.2 560.8,189.0" fill="none" stroke="#D95F0E" stroke-width="1.4" stroke-linejoin="round"/>
<polygon points="451.5,184.3 457.5,184.3 454.5,190.3" fill="#D95F0E"/>
<polygon points="461.2,183.1 467.2,183.1 464.2,189.1" fill="#D95F0E"/>
<polygon points="470.8,186.1 476.8,186.1 473.8,192.1" fill="#D95F0E"/>
<polygon points="480.5,192.8 486.5,192.8 483.5,198.8" fill="#D95F0E"/>
<polygon points="490.2,203.7 496.2,203.7 493.2,209.7" fill="#D95F0E"/>
<polygon points="499.8,211.6 505.8,211.6 502.8,217.6" fill="#D95F0E"/>
<polygon points="509.5,217.7 515.5,217.7 512.5,223.7" fill="#D95F0E"/>
<polygon points="519.1,216.5 525.1,216.5 522.1,222.5" fill="#D95F0E"/>
<polygon points="528.8,200.7 534.8,200.7 531.8,206.7" fill="#D95F0E"/>
<polygon points="538.5,192.2 544.5,192.2 541.5,198.2" fill="#D95F0E"/>
<polygon points="548.1,187.3 554.1,187.3 551.1,193.3" fill="#D95F0E"/>
<polygon points="557.8,186.1 563.8,186.1 560.8,192.1" fill="#D95F0E"/>
<polyline points="454.5,176.2 464.2,172.6 473.8,181.7 483.5,190.8 493.2,203.5 502.8,224.8 512.5,230.2 522.1,227.8 531.8,202.3 541.5,180.5 551.1,177.4 560.8,175.6" fill="none" stroke="#993404" stroke-width="1.4" stroke-linejoin="round"/>
<polygon points="454.5,173.2 457.1,176.2 454.5,179.2 451.9,176.2" fill="#993404"/>
<polygon points="464.2,169.6 466.8,172.6 464.2,175.6 461.5,172.6" fill="#993404"/>
<polygon points="473.8,178.7 476.5,181.7 473.8,184.7 471.2,181.7" fill="#993404"/>
<polygon points="483.5,187.8 486.1,190.8 483.5,193.8 480.9,190.8" fill="#993404"/>
<polygon points="493.2,200.5 495.8,203.5 493.2,206.5 490.5,203.5" fill="#993404"/>
<polygon points="502.8,221.8 505.5,224.8 502.8,227.8 500.2,224.8" fill="#993404"/>
<polygon points="512.5,227.2 515.1,230.2 512.5,233.2 509.8,230.2" fill="#993404"/>
<polygon points="522.1,224.8 524.8,227.8 522.1,230.8 519.5,227.8" fill="#993404"/>
<polygon points="531.8,199.3 534.4,202.3 531.8,205.3 529.2,202.3" fill="#993404"/>
<polygon points="541.5,177.5 544.1,180.5 541.5,183.5 538.8,180.5" fill="#993404"/>
<polygon points="551.1,174.4 553.8,177.4 551.1,180.4 548.5,177.4" fill="#993404"/>
<polygon points="560.8,172.6 563.4,175.6 560.8,178.6 558.2,175.6" fill="#993404"/>
<path d="M454.5,168.35 H560.8 V265.4" fill="none" stroke="#b4b4b4" stroke-width="0.9"/>
<path d="M454.5,168.35 V265.4 H560.8" fill="none" stroke="#8a8a8a" stroke-width="0.9"/>
<line x1="454.5" y1="235.1" x2="457.5" y2="235.1" stroke="#8a8a8a" stroke-width="0.8"/>
<line x1="454.5" y1="204.7" x2="457.5" y2="204.7" stroke="#8a8a8a" stroke-width="0.8"/>
<line x1="454.5" y1="174.4" x2="457.5" y2="174.4" stroke="#8a8a8a" stroke-width="0.8"/>
<line x1="464.2" y1="265.4" x2="464.2" y2="262.4" stroke="#8a8a8a" stroke-width="0.8"/>
<line x1="473.8" y1="265.4" x2="473.8" y2="262.4" stroke="#8a8a8a" stroke-width="0.8"/>
<line x1="483.5" y1="265.4" x2="483.5" y2="262.4" stroke="#8a8a8a" stroke-width="0.8"/>
<line x1="493.2" y1="265.4" x2="493.2" y2="262.4" stroke="#8a8a8a" stroke-width="0.8"/>
<line x1="502.8" y1="265.4" x2="502.8" y2="262.4" stroke="#8a8a8a" stroke-width="0.8"/>
<line x1="512.5" y1="265.4" x2="512.5" y2="262.4" stroke="#8a8a8a" stroke-width="0.8"/>
<line x1="522.1" y1="265.4" x2="522.1" y2="262.4" stroke="#8a8a8a" stroke-width="0.8"/>
<line x1="531.8" y1="265.4" x2="531.8" y2="262.4" stroke="#8a8a8a" stroke-width="0.8"/>
<line x1="541.5" y1="265.4" x2="541.5" y2="262.4" stroke="#8a8a8a" stroke-width="0.8"/>
<line x1="551.1" y1="265.4" x2="551.1" y2="262.4" stroke="#8a8a8a" stroke-width="0.8"/>
<line x1="462.6" y1="237.0" x2="481.0" y2="237.0" stroke="#FEC44F" stroke-width="1.5"/>
<circle cx="471.8" cy="237.0" r="2.50" fill="#FEC44F"/>
<text x="485.3" y="240.1" font-size="8.2" fill="#111">A</text>
<line x1="462.6" y1="245.8" x2="481.0" y2="245.8" stroke="#FE9929" stroke-width="1.5"/>
<rect x="469.6" y="243.6" width="4.4" height="4.4" fill="#FE9929"/>
<text x="485.3" y="248.9" font-size="8.2" fill="#111">B</text>
<line x1="462.6" y1="254.7" x2="481.0" y2="254.7" stroke="#EC7014" stroke-width="1.5"/>
<polygon points="468.8,257.6 474.8,257.6 471.8,251.5" fill="#EC7014"/>
<text x="485.3" y="257.8" font-size="8.2" fill="#111">C</text>
<line x1="526.5" y1="245.8" x2="544.9000000000001" y2="245.8" stroke="#D95F0E" stroke-width="1.5"/>
<polygon points="532.7,243.0 538.7,243.0 535.7,249.0" fill="#D95F0E"/>
<text x="549.2" y="248.9" font-size="8.2" fill="#111">D</text>
<line x1="526.5" y1="254.7" x2="544.9000000000001" y2="254.7" stroke="#993404" stroke-width="1.5"/>
<polygon points="535.7,251.7 538.3,254.7 535.7,257.7 533.1,254.7" fill="#993404"/>
<text x="549.2" y="257.8" font-size="8.2" fill="#111">E</text>
<text x="449.8" y="177.8" font-size="8.5" text-anchor="end" fill="#111">25%</text>
<text x="449.8" y="208.1" font-size="8.5" text-anchor="end" fill="#111">20%</text>
<text x="449.8" y="238.5" font-size="8.5" text-anchor="end" fill="#111">15%</text>
<text x="449.8" y="268.8" font-size="8.5" text-anchor="end" fill="#111">10%</text>
<polyline points="574.6,190.8 584.2,187.8 593.8,190.2 603.5,195.0 613.1,207.8 622.7,216.9 632.3,219.9 641.9,221.7 651.5,207.8 661.2,199.9 670.8,195.0 680.4,195.6" fill="none" stroke="#FD9E35" stroke-width="1.4" stroke-linejoin="round"/>
<circle cx="574.6" cy="190.8" r="2.50" fill="#FD9E35"/>
<circle cx="584.2" cy="187.8" r="2.50" fill="#FD9E35"/>
<circle cx="593.8" cy="190.2" r="2.50" fill="#FD9E35"/>
<circle cx="603.5" cy="195.0" r="2.50" fill="#FD9E35"/>
<circle cx="613.1" cy="207.8" r="2.50" fill="#FD9E35"/>
<circle cx="622.7" cy="216.9" r="2.50" fill="#FD9E35"/>
<circle cx="632.3" cy="219.9" r="2.50" fill="#FD9E35"/>
<circle cx="641.9" cy="221.7" r="2.50" fill="#FD9E35"/>
<circle cx="651.5" cy="207.8" r="2.50" fill="#FD9E35"/>
<circle cx="661.2" cy="199.9" r="2.50" fill="#FD9E35"/>
<circle cx="670.8" cy="195.0" r="2.50" fill="#FD9E35"/>
<circle cx="680.4" cy="195.6" r="2.50" fill="#FD9E35"/>
<polyline points="574.6,180.5 584.2,180.5 593.8,185.9 603.5,195.0 613.1,208.4 622.7,215.7 632.3,223.5 641.9,221.1 651.5,205.4 661.2,196.3 670.8,184.7 680.4,183.5" fill="none" stroke="#EE7A22" stroke-width="1.4" stroke-linejoin="round"/>
<rect x="572.4" y="178.3" width="4.4" height="4.4" fill="#EE7A22"/>
<rect x="582.0" y="178.3" width="4.4" height="4.4" fill="#EE7A22"/>
<rect x="591.6" y="183.7" width="4.4" height="4.4" fill="#EE7A22"/>
<rect x="601.3" y="192.8" width="4.4" height="4.4" fill="#EE7A22"/>
<rect x="610.9" y="206.2" width="4.4" height="4.4" fill="#EE7A22"/>
<rect x="620.5" y="213.5" width="4.4" height="4.4" fill="#EE7A22"/>
<rect x="630.1" y="221.3" width="4.4" height="4.4" fill="#EE7A22"/>
<rect x="639.7" y="218.9" width="4.4" height="4.4" fill="#EE7A22"/>
<rect x="649.3" y="203.2" width="4.4" height="4.4" fill="#EE7A22"/>
<rect x="659.0" y="194.1" width="4.4" height="4.4" fill="#EE7A22"/>
<rect x="668.6" y="182.5" width="4.4" height="4.4" fill="#EE7A22"/>
<rect x="678.2" y="181.3" width="4.4" height="4.4" fill="#EE7A22"/>
<polyline points="574.6,179.9 584.2,179.3 593.8,184.7 603.5,193.8 613.1,207.2 622.7,215.1 632.3,224.2 641.9,221.1 651.5,204.1 661.2,195.0 670.8,183.5 680.4,182.3" fill="none" stroke="#D4601A" stroke-width="1.4" stroke-linejoin="round"/>
<polygon points="571.6,182.7 577.6,182.7 574.6,176.7" fill="#D4601A"/>
<polygon points="581.2,182.1 587.2,182.1 584.2,176.1" fill="#D4601A"/>
<polygon points="590.8,187.6 596.8,187.6 593.8,181.6" fill="#D4601A"/>
<polygon points="600.5,196.7 606.5,196.7 603.5,190.7" fill="#D4601A"/>
<polygon points="610.1,210.0 616.1,210.0 613.1,204.0" fill="#D4601A"/>
<polygon points="619.7,217.9 625.7,217.9 622.7,211.9" fill="#D4601A"/>
<polygon points="629.3,227.0 635.3,227.0 632.3,221.0" fill="#D4601A"/>
<polygon points="638.9,224.0 644.9,224.0 641.9,218.0" fill="#D4601A"/>
<polygon points="648.5,207.0 654.5,207.0 651.5,201.0" fill="#D4601A"/>
<polygon points="658.2,197.9 664.2,197.9 661.2,191.9" fill="#D4601A"/>
<polygon points="667.8,186.4 673.8,186.4 670.8,180.4" fill="#D4601A"/>
<polygon points="677.4,185.2 683.4,185.2 680.4,179.2" fill="#D4601A"/>
<polyline points="574.6,180.5 584.2,179.9 593.8,185.3 603.5,193.8 613.1,206.6 622.7,213.2 632.3,222.9 641.9,219.9 651.5,203.5 661.2,195.6 670.8,183.5 680.4,182.3" fill="none" stroke="#993404" stroke-width="1.4" stroke-linejoin="round"/>
<polygon points="571.6,177.6 577.6,177.6 574.6,183.6" fill="#993404"/>
<polygon points="581.2,177.0 587.2,177.0 584.2,183.0" fill="#993404"/>
<polygon points="590.8,182.5 596.8,182.5 593.8,188.5" fill="#993404"/>
<polygon points="600.5,191.0 606.5,191.0 603.5,197.0" fill="#993404"/>
<polygon points="610.1,203.7 616.1,203.7 613.1,209.7" fill="#993404"/>
<polygon points="619.7,210.4 625.7,210.4 622.7,216.4" fill="#993404"/>
<polygon points="629.3,220.1 635.3,220.1 632.3,226.1" fill="#993404"/>
<polygon points="638.9,217.1 644.9,217.1 641.9,223.1" fill="#993404"/>
<polygon points="648.5,200.7 654.5,200.7 651.5,206.7" fill="#993404"/>
<polygon points="658.2,192.8 664.2,192.8 661.2,198.8" fill="#993404"/>
<polygon points="667.8,180.7 673.8,180.7 670.8,186.7" fill="#993404"/>
<polygon points="677.4,179.5 683.4,179.5 680.4,185.5" fill="#993404"/>
<path d="M574.6,168.35 H680.4 V265.4" fill="none" stroke="#b4b4b4" stroke-width="0.9"/>
<path d="M574.6,168.35 V265.4 H680.4" fill="none" stroke="#8a8a8a" stroke-width="0.9"/>
<line x1="574.6" y1="235.1" x2="577.6" y2="235.1" stroke="#8a8a8a" stroke-width="0.8"/>
<line x1="574.6" y1="204.7" x2="577.6" y2="204.7" stroke="#8a8a8a" stroke-width="0.8"/>
<line x1="574.6" y1="174.4" x2="577.6" y2="174.4" stroke="#8a8a8a" stroke-width="0.8"/>
<line x1="584.2" y1="265.4" x2="584.2" y2="262.4" stroke="#8a8a8a" stroke-width="0.8"/>
<line x1="593.8" y1="265.4" x2="593.8" y2="262.4" stroke="#8a8a8a" stroke-width="0.8"/>
<line x1="603.5" y1="265.4" x2="603.5" y2="262.4" stroke="#8a8a8a" stroke-width="0.8"/>
<line x1="613.1" y1="265.4" x2="613.1" y2="262.4" stroke="#8a8a8a" stroke-width="0.8"/>
<line x1="622.7" y1="265.4" x2="622.7" y2="262.4" stroke="#8a8a8a" stroke-width="0.8"/>
<line x1="632.3" y1="265.4" x2="632.3" y2="262.4" stroke="#8a8a8a" stroke-width="0.8"/>
<line x1="641.9" y1="265.4" x2="641.9" y2="262.4" stroke="#8a8a8a" stroke-width="0.8"/>
<line x1="651.5" y1="265.4" x2="651.5" y2="262.4" stroke="#8a8a8a" stroke-width="0.8"/>
<line x1="661.2" y1="265.4" x2="661.2" y2="262.4" stroke="#8a8a8a" stroke-width="0.8"/>
<line x1="670.8" y1="265.4" x2="670.8" y2="262.4" stroke="#8a8a8a" stroke-width="0.8"/>
<line x1="582.4" y1="228.4" x2="600.8000000000001" y2="228.4" stroke="#FD9E35" stroke-width="1.5"/>
<circle cx="591.6" cy="228.4" r="2.50" fill="#FD9E35"/>
<text x="605.1" y="231.5" font-size="8.2" fill="#111">F</text>
<line x1="582.4" y1="237.1" x2="600.8000000000001" y2="237.1" stroke="#EE7A22" stroke-width="1.5"/>
<rect x="589.4" y="234.9" width="4.4" height="4.4" fill="#EE7A22"/>
<text x="605.1" y="240.2" font-size="8.2" fill="#111">G</text>
<line x1="582.4" y1="245.8" x2="600.8000000000001" y2="245.8" stroke="#D4601A" stroke-width="1.5"/>
<polygon points="588.6,248.7 594.6,248.7 591.6,242.7" fill="#D4601A"/>
<text x="605.1" y="248.9" font-size="8.2" fill="#111">H</text>
<line x1="582.4" y1="254.6" x2="600.8000000000001" y2="254.6" stroke="#993404" stroke-width="1.5"/>
<polygon points="588.6,251.8 594.6,251.8 591.6,257.8" fill="#993404"/>
<text x="605.1" y="257.7" font-size="8.2" fill="#111">I</text>
<polyline points="454.3,320.3 464.0,317.8 473.6,337.7 483.3,357.7 493.0,369.0 502.7,364.3 512.3,353.4 522.0,360.0 531.7,371.0 541.4,345.0 551.0,324.4 560.7,317.8" fill="none" stroke="#A1D99B" stroke-width="1.4" stroke-linejoin="round"/>
<circle cx="454.3" cy="320.3" r="2.50" fill="#A1D99B"/>
<circle cx="464.0" cy="317.8" r="2.50" fill="#A1D99B"/>
<circle cx="473.6" cy="337.7" r="2.50" fill="#A1D99B"/>
<circle cx="483.3" cy="357.7" r="2.50" fill="#A1D99B"/>
<circle cx="493.0" cy="369.0" r="2.50" fill="#A1D99B"/>
<circle cx="502.7" cy="364.3" r="2.50" fill="#A1D99B"/>
<circle cx="512.3" cy="353.4" r="2.50" fill="#A1D99B"/>
<circle cx="522.0" cy="360.0" r="2.50" fill="#A1D99B"/>
<circle cx="531.7" cy="371.0" r="2.50" fill="#A1D99B"/>
<circle cx="541.4" cy="345.0" r="2.50" fill="#A1D99B"/>
<circle cx="551.0" cy="324.4" r="2.50" fill="#A1D99B"/>
<circle cx="560.7" cy="317.8" r="2.50" fill="#A1D99B"/>
<polyline points="454.3,351.0 464.0,345.0 473.6,342.4 483.3,340.1 493.0,367.7 502.7,371.7 512.3,368.4 522.0,372.3 531.7,372.7 541.4,349.1 551.0,341.1 560.7,342.8" fill="none" stroke="#74C476" stroke-width="1.4" stroke-linejoin="round"/>
<rect x="452.1" y="348.8" width="4.4" height="4.4" fill="#74C476"/>
<rect x="461.8" y="342.8" width="4.4" height="4.4" fill="#74C476"/>
<rect x="471.4" y="340.2" width="4.4" height="4.4" fill="#74C476"/>
<rect x="481.1" y="337.9" width="4.4" height="4.4" fill="#74C476"/>
<rect x="490.8" y="365.5" width="4.4" height="4.4" fill="#74C476"/>
<rect x="500.5" y="369.5" width="4.4" height="4.4" fill="#74C476"/>
<rect x="510.1" y="366.2" width="4.4" height="4.4" fill="#74C476"/>
<rect x="519.8" y="370.1" width="4.4" height="4.4" fill="#74C476"/>
<rect x="529.5" y="370.5" width="4.4" height="4.4" fill="#74C476"/>
<rect x="539.2" y="346.9" width="4.4" height="4.4" fill="#74C476"/>
<rect x="548.8" y="338.9" width="4.4" height="4.4" fill="#74C476"/>
<rect x="558.5" y="340.6" width="4.4" height="4.4" fill="#74C476"/>
<polyline points="454.3,294.5 464.0,298.0 473.6,291.9 483.3,325.1 493.0,362.4 502.7,359.9 512.3,334.4 522.0,341.7 531.7,363.3 541.4,341.7 551.0,310.2 560.7,305.2" fill="none" stroke="#41AB5D" stroke-width="1.4" stroke-linejoin="round"/>
<polygon points="451.3,297.4 457.3,297.4 454.3,291.4" fill="#41AB5D"/>
<polygon points="461.0,300.8 467.0,300.8 464.0,294.8" fill="#41AB5D"/>
<polygon points="470.6,294.7 476.6,294.7 473.6,288.7" fill="#41AB5D"/>
<polygon points="480.3,327.9 486.3,327.9 483.3,321.9" fill="#41AB5D"/>
<polygon points="490.0,365.2 496.0,365.2 493.0,359.2" fill="#41AB5D"/>
<polygon points="499.7,362.8 505.7,362.8 502.7,356.8" fill="#41AB5D"/>
<polygon points="509.3,337.2 515.3,337.2 512.3,331.2" fill="#41AB5D"/>
<polygon points="519.0,344.6 525.0,344.6 522.0,338.6" fill="#41AB5D"/>
<polygon points="528.7,366.2 534.7,366.2 531.7,360.2" fill="#41AB5D"/>
<polygon points="538.4,344.6 544.4,344.6 541.4,338.6" fill="#41AB5D"/>
<polygon points="548.0,313.0 554.0,313.0 551.0,307.0" fill="#41AB5D"/>
<polygon points="557.7,308.0 563.7,308.0 560.7,302.0" fill="#41AB5D"/>
<polyline points="454.3,316.9 464.0,317.8 473.6,347.7 483.3,364.3 493.0,374.4 502.7,372.3 512.3,367.7 522.0,371.0 531.7,376.0 541.4,340.1 551.0,319.4 560.7,312.8" fill="none" stroke="#006D2C" stroke-width="1.4" stroke-linejoin="round"/>
<polygon points="451.3,314.0 457.3,314.0 454.3,320.0" fill="#006D2C"/>
<polygon points="461.0,315.0 467.0,315.0 464.0,321.0" fill="#006D2C"/>
<polygon points="470.6,344.9 476.6,344.9 473.6,350.9" fill="#006D2C"/>
<polygon points="480.3,361.4 486.3,361.4 483.3,367.4" fill="#006D2C"/>
<polygon points="490.0,371.5 496.0,371.5 493.0,377.5" fill="#006D2C"/>
<polygon points="499.7,369.5 505.7,369.5 502.7,375.5" fill="#006D2C"/>
<polygon points="509.3,364.8 515.3,364.8 512.3,370.8" fill="#006D2C"/>
<polygon points="519.0,368.1 525.0,368.1 522.0,374.1" fill="#006D2C"/>
<polygon points="528.7,373.2 534.7,373.2 531.7,379.2" fill="#006D2C"/>
<polygon points="538.4,337.2 544.4,337.2 541.4,343.2" fill="#006D2C"/>
<polygon points="548.0,316.5 554.0,316.5 551.0,322.5" fill="#006D2C"/>
<polygon points="557.7,309.9 563.7,309.9 560.7,315.9" fill="#006D2C"/>
<path d="M454.3,282.5 H560.7 V379.3" fill="none" stroke="#b4b4b4" stroke-width="0.9"/>
<path d="M454.3,282.5 V379.3 H560.7" fill="none" stroke="#8a8a8a" stroke-width="0.9"/>
<line x1="454.3" y1="330.9" x2="457.3" y2="330.9" stroke="#8a8a8a" stroke-width="0.8"/>
<line x1="464.0" y1="379.3" x2="464.0" y2="376.3" stroke="#8a8a8a" stroke-width="0.8"/>
<line x1="473.6" y1="379.3" x2="473.6" y2="376.3" stroke="#8a8a8a" stroke-width="0.8"/>
<line x1="483.3" y1="379.3" x2="483.3" y2="376.3" stroke="#8a8a8a" stroke-width="0.8"/>
<line x1="493.0" y1="379.3" x2="493.0" y2="376.3" stroke="#8a8a8a" stroke-width="0.8"/>
<line x1="502.7" y1="379.3" x2="502.7" y2="376.3" stroke="#8a8a8a" stroke-width="0.8"/>
<line x1="512.3" y1="379.3" x2="512.3" y2="376.3" stroke="#8a8a8a" stroke-width="0.8"/>
<line x1="522.0" y1="379.3" x2="522.0" y2="376.3" stroke="#8a8a8a" stroke-width="0.8"/>
<line x1="531.7" y1="379.3" x2="531.7" y2="376.3" stroke="#8a8a8a" stroke-width="0.8"/>
<line x1="541.4" y1="379.3" x2="541.4" y2="376.3" stroke="#8a8a8a" stroke-width="0.8"/>
<line x1="551.0" y1="379.3" x2="551.0" y2="376.3" stroke="#8a8a8a" stroke-width="0.8"/>
<line x1="502.1" y1="290.9" x2="520.5" y2="290.9" stroke="#A1D99B" stroke-width="1.5"/>
<circle cx="511.3" cy="290.9" r="2.50" fill="#A1D99B"/>
<text x="524.8" y="294.0" font-size="8.2" fill="#111">i</text>
<line x1="502.1" y1="299.6" x2="520.5" y2="299.6" stroke="#74C476" stroke-width="1.5"/>
<rect x="509.1" y="297.4" width="4.4" height="4.4" fill="#74C476"/>
<text x="524.8" y="302.70000000000005" font-size="8.2" fill="#111">ii</text>
<line x1="502.1" y1="308.2" x2="520.5" y2="308.2" stroke="#41AB5D" stroke-width="1.5"/>
<polygon points="508.3,311.1 514.3,311.1 511.3,305.1" fill="#41AB5D"/>
<text x="524.8" y="311.3" font-size="8.2" fill="#111">iii</text>
<line x1="502.1" y1="317.1" x2="520.5" y2="317.1" stroke="#006D2C" stroke-width="1.5"/>
<polygon points="508.3,314.2 514.3,314.2 511.3,320.2" fill="#006D2C"/>
<text x="524.8" y="320.20000000000005" font-size="8.2" fill="#111">iv</text>
<text x="449.8" y="285.9" font-size="8.5" text-anchor="end" fill="#111">100%</text>
<text x="449.8" y="334.3" font-size="8.5" text-anchor="end" fill="#111">50%</text>
<text x="449.8" y="382.7" font-size="8.5" text-anchor="end" fill="#111">0%</text>
<text x="454.3" y="390.6" font-size="8.4" text-anchor="middle" fill="#111">J</text>
<text x="464.0" y="390.6" font-size="8.4" text-anchor="middle" fill="#111">F</text>
<text x="473.6" y="390.6" font-size="8.4" text-anchor="middle" fill="#111">M</text>
<text x="483.3" y="390.6" font-size="8.4" text-anchor="middle" fill="#111">A</text>
<text x="493.0" y="390.6" font-size="8.4" text-anchor="middle" fill="#111">M</text>
<text x="502.7" y="390.6" font-size="8.4" text-anchor="middle" fill="#111">J</text>
<text x="512.3" y="390.6" font-size="8.4" text-anchor="middle" fill="#111">J</text>
<text x="522.0" y="390.6" font-size="8.4" text-anchor="middle" fill="#111">A</text>
<text x="531.7" y="390.6" font-size="8.4" text-anchor="middle" fill="#111">S</text>
<text x="541.4" y="390.6" font-size="8.4" text-anchor="middle" fill="#111">O</text>
<text x="551.0" y="390.6" font-size="8.4" text-anchor="middle" fill="#111">N</text>
<text x="560.7" y="390.6" font-size="8.4" text-anchor="middle" fill="#111">D</text>
<polyline points="574.5,321.9 584.2,318.1 593.9,323.2 603.5,325.5 613.2,323.2 622.9,341.7 632.6,363.9 642.3,356.6 652.0,330.8 661.6,317.5 671.3,323.4 681.0,321.6" fill="none" stroke="#78C679" stroke-width="1.4" stroke-linejoin="round"/>
<circle cx="574.5" cy="321.9" r="2.50" fill="#78C679"/>
<circle cx="584.2" cy="318.1" r="2.50" fill="#78C679"/>
<circle cx="593.9" cy="323.2" r="2.50" fill="#78C679"/>
<circle cx="603.5" cy="325.5" r="2.50" fill="#78C679"/>
<circle cx="613.2" cy="323.2" r="2.50" fill="#78C679"/>
<circle cx="622.9" cy="341.7" r="2.50" fill="#78C679"/>
<circle cx="632.6" cy="363.9" r="2.50" fill="#78C679"/>
<circle cx="642.3" cy="356.6" r="2.50" fill="#78C679"/>
<circle cx="652.0" cy="330.8" r="2.50" fill="#78C679"/>
<circle cx="661.6" cy="317.5" r="2.50" fill="#78C679"/>
<circle cx="671.3" cy="323.4" r="2.50" fill="#78C679"/>
<circle cx="681.0" cy="321.6" r="2.50" fill="#78C679"/>
<polyline points="574.5,313.0 584.2,311.5 593.9,320.2 603.5,346.2 613.2,372.2 622.9,370.4 632.6,364.8 642.3,371.4 652.0,374.3 661.6,368.4 671.3,326.1 681.0,314.3" fill="none" stroke="#41AB5D" stroke-width="1.4" stroke-linejoin="round"/>
<rect x="572.3" y="310.8" width="4.4" height="4.4" fill="#41AB5D"/>
<rect x="582.0" y="309.3" width="4.4" height="4.4" fill="#41AB5D"/>
<rect x="591.7" y="318.0" width="4.4" height="4.4" fill="#41AB5D"/>
<rect x="601.3" y="344.0" width="4.4" height="4.4" fill="#41AB5D"/>
<rect x="611.0" y="370.0" width="4.4" height="4.4" fill="#41AB5D"/>
<rect x="620.7" y="368.2" width="4.4" height="4.4" fill="#41AB5D"/>
<rect x="630.4" y="362.6" width="4.4" height="4.4" fill="#41AB5D"/>
<rect x="640.1" y="369.2" width="4.4" height="4.4" fill="#41AB5D"/>
<rect x="649.8" y="372.1" width="4.4" height="4.4" fill="#41AB5D"/>
<rect x="659.4" y="366.2" width="4.4" height="4.4" fill="#41AB5D"/>
<rect x="669.1" y="323.9" width="4.4" height="4.4" fill="#41AB5D"/>
<rect x="678.8" y="312.1" width="4.4" height="4.4" fill="#41AB5D"/>
<polyline points="574.5,299.4 584.2,295.9 593.9,301.9 603.5,304.8 613.2,313.0 622.9,357.4 632.6,360.9 642.3,360.9 652.0,353.6 661.6,299.4 671.3,295.9 681.0,292.4" fill="none" stroke="#006D2C" stroke-width="1.4" stroke-linejoin="round"/>
<polygon points="571.5,302.3 577.5,302.3 574.5,296.3" fill="#006D2C"/>
<polygon points="581.2,298.7 587.2,298.7 584.2,292.7" fill="#006D2C"/>
<polygon points="590.9,304.7 596.9,304.7 593.9,298.7" fill="#006D2C"/>
<polygon points="600.5,307.6 606.5,307.6 603.5,301.6" fill="#006D2C"/>
<polygon points="610.2,315.8 616.2,315.8 613.2,309.8" fill="#006D2C"/>
<polygon points="619.9,360.3 625.9,360.3 622.9,354.3" fill="#006D2C"/>
<polygon points="629.6,363.8 635.6,363.8 632.6,357.8" fill="#006D2C"/>
<polygon points="639.3,363.8 645.3,363.8 642.3,357.8" fill="#006D2C"/>
<polygon points="649.0,356.4 655.0,356.4 652.0,350.4" fill="#006D2C"/>
<polygon points="658.6,302.3 664.6,302.3 661.6,296.3" fill="#006D2C"/>
<polygon points="668.3,298.7 674.3,298.7 671.3,292.7" fill="#006D2C"/>
<polygon points="678.0,295.2 684.0,295.2 681.0,289.2" fill="#006D2C"/>
<path d="M574.5,282.5 H681.0 V379.3" fill="none" stroke="#b4b4b4" stroke-width="0.9"/>
<path d="M574.5,282.5 V379.3 H681.0" fill="none" stroke="#8a8a8a" stroke-width="0.9"/>
<line x1="574.5" y1="330.9" x2="577.5" y2="330.9" stroke="#8a8a8a" stroke-width="0.8"/>
<line x1="584.2" y1="379.3" x2="584.2" y2="376.3" stroke="#8a8a8a" stroke-width="0.8"/>
<line x1="593.9" y1="379.3" x2="593.9" y2="376.3" stroke="#8a8a8a" stroke-width="0.8"/>
<line x1="603.5" y1="379.3" x2="603.5" y2="376.3" stroke="#8a8a8a" stroke-width="0.8"/>
<line x1="613.2" y1="379.3" x2="613.2" y2="376.3" stroke="#8a8a8a" stroke-width="0.8"/>
<line x1="622.9" y1="379.3" x2="622.9" y2="376.3" stroke="#8a8a8a" stroke-width="0.8"/>
<line x1="632.6" y1="379.3" x2="632.6" y2="376.3" stroke="#8a8a8a" stroke-width="0.8"/>
<line x1="642.3" y1="379.3" x2="642.3" y2="376.3" stroke="#8a8a8a" stroke-width="0.8"/>
<line x1="652.0" y1="379.3" x2="652.0" y2="376.3" stroke="#8a8a8a" stroke-width="0.8"/>
<line x1="661.6" y1="379.3" x2="661.6" y2="376.3" stroke="#8a8a8a" stroke-width="0.8"/>
<line x1="671.3" y1="379.3" x2="671.3" y2="376.3" stroke="#8a8a8a" stroke-width="0.8"/>
<line x1="620.1999999999999" y1="288.5" x2="638.6" y2="288.5" stroke="#78C679" stroke-width="1.5"/>
<circle cx="629.4" cy="288.5" r="2.50" fill="#78C679"/>
<text x="642.9" y="291.6" font-size="8.2" fill="#111">v</text>
<line x1="620.1999999999999" y1="297.3" x2="638.6" y2="297.3" stroke="#41AB5D" stroke-width="1.5"/>
<rect x="627.2" y="295.1" width="4.4" height="4.4" fill="#41AB5D"/>
<text x="642.9" y="300.40000000000003" font-size="8.2" fill="#111">vi</text>
<line x1="620.1999999999999" y1="306.1" x2="638.6" y2="306.1" stroke="#006D2C" stroke-width="1.5"/>
<polygon points="626.4,309.0 632.4,309.0 629.4,303.0" fill="#006D2C"/>
<text x="642.9" y="309.20000000000005" font-size="8.2" fill="#111">vii</text>
<text x="574.5" y="390.6" font-size="8.4" text-anchor="middle" fill="#111">J</text>
<text x="584.2" y="390.6" font-size="8.4" text-anchor="middle" fill="#111">F</text>
<text x="593.9" y="390.6" font-size="8.4" text-anchor="middle" fill="#111">M</text>
<text x="603.5" y="390.6" font-size="8.4" text-anchor="middle" fill="#111">A</text>
<text x="613.2" y="390.6" font-size="8.4" text-anchor="middle" fill="#111">M</text>
<text x="622.9" y="390.6" font-size="8.4" text-anchor="middle" fill="#111">J</text>
<text x="632.6" y="390.6" font-size="8.4" text-anchor="middle" fill="#111">J</text>
<text x="642.3" y="390.6" font-size="8.4" text-anchor="middle" fill="#111">A</text>
<text x="652.0" y="390.6" font-size="8.4" text-anchor="middle" fill="#111">S</text>
<text x="661.6" y="390.6" font-size="8.4" text-anchor="middle" fill="#111">O</text>
<text x="671.3" y="390.6" font-size="8.4" text-anchor="middle" fill="#111">N</text>
<text x="681.0" y="390.6" font-size="8.4" text-anchor="middle" fill="#111">D</text>
<text x="567.3" y="404.5" font-size="8.4" text-anchor="middle" fill="#111">Month</text>
<text x="0" y="0" font-size="8.8" fill="#111" text-anchor="middle" transform="translate(413.6,216.3) rotate(-90)">Solar PV</text>
<text x="0" y="0" font-size="8.5" fill="#111" text-anchor="middle" transform="translate(422.6,216.4) rotate(-90)">capacity factor</text>
<text x="0" y="0" font-size="8.8" fill="#111" text-anchor="middle" transform="translate(411.6,331.3) rotate(-90)">Wind</text>
<text x="0" y="0" font-size="8.5" fill="#111" text-anchor="middle" transform="translate(422.6,330.8) rotate(-90)">capacity factor</text>
<text x="-1.1" y="7.4" font-size="10.6" font-weight="bold" fill="#000">a</text>
<text x="404.1" y="7.9" font-size="10.5" font-weight="bold" fill="#000">b</text>
<text x="404.6" y="168.6" font-size="10.5" font-weight="bold" fill="#000">c</text>
</svg>
</body></html>
